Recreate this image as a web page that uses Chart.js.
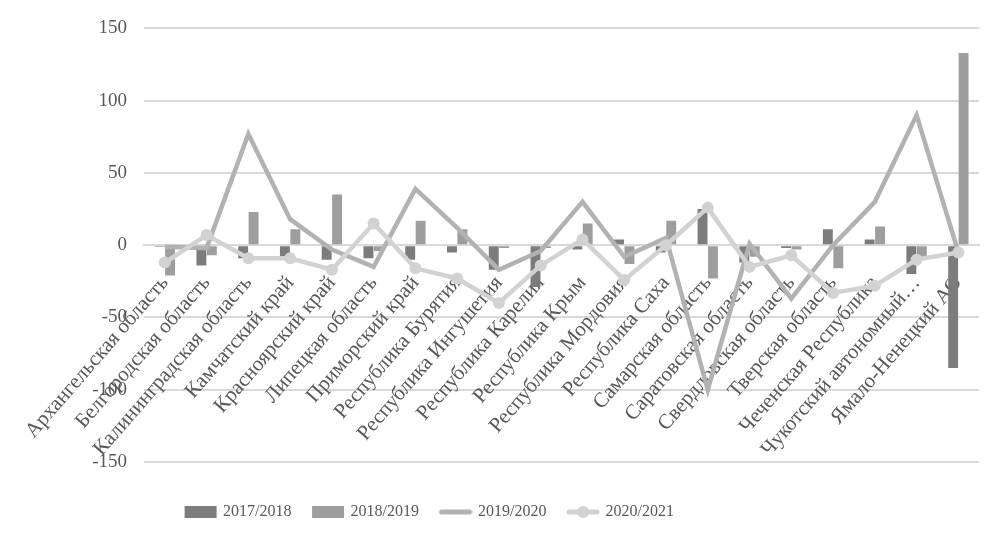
<!DOCTYPE html>
<html lang="ru">
<head>
<meta charset="UTF-8">
<title>Chart</title>
<script src="https://cdn.jsdelivr.net/npm/chart.js"></script>
<style>
  *{margin:0;padding:0;box-sizing:border-box;}
  body{background:#fff;}
  #wrap{width:1004px;height:544px;position:relative;}
</style>
</head>
<body>
<div id="wrap"><canvas id="mycanvas"></canvas></div>
<script>
// регионы
var regions = ["Архангельская область","Белгородская область","Калининградская область","Камчатский край",
  "Красноярский край","Липецкая область","Приморский край","Республика Бурятия","Республика Ингушетия",
  "Республика Карелия","Республика Крым","Республика Мордовия","Республика Саха","Самарская область",
  "Саратовская область","Свердловская область","Тверская область","Чеченская Республика",
  "Чукотский автономный…","Ямало-Ненецкий АО"];
var seriesNames = ["2017/2018","2018/2019","2019/2020","2020/2021"];
var v1718 = [-1,-14,-9,-10,-10,-9,-10,-5,-17,-29,-3,4,-5,25,-12,-2,11,4,-20,-85];
var v1819 = [-21,-7,23,11,35,-4,17,11,-2,-2,15,-13,17,-23,-8,-3,-16,13,-10,133];
var v1920 = [-1,-2,77,18,-3,-15,39,12,-17,-4,30,-8,5,-100,1,-37,0,30,90,-5];
var v2021 = [-12,7,-9,-9,-17,15,-16,-23,-40,-14,4,-24,0,26,-15,-7,-33,-28,-10,-5];
var yTicks = [-150,-100,-50,0,50,100,150];

var colors = ["#7c7c7c","#9e9e9e","#b2b2b2","#d2d2d2"];
var fontName = "'Liberation Serif','Times New Roman',serif";

// значки для легенды
function legendIcon(type, color){
  var c = document.createElement("canvas");
  c.width = 34; c.height = 14;
  var g = c.getContext("2d");
  if(type=="bar"){
    g.fillStyle = color;
    g.fillRect(1,1,32,12);
  }else{
    g.strokeStyle = color;
    g.lineWidth = 5;
    g.lineCap = "round";
    g.beginPath(); g.moveTo(3,7); g.lineTo(31,7); g.stroke();
    if(type=="marker"){
      g.fillStyle = color;
      g.beginPath(); g.arc(17,7,6,0,Math.PI*2); g.fill();
    }
  }
  return c;
}
var icons = [legendIcon("bar",colors[0]),legendIcon("bar",colors[1]),legendIcon("line",colors[2]),legendIcon("marker",colors[3])];

// легенда в оригинале сдвинута влево
var legendShift = {
  id:"legendShift",
  afterLayout:function(chart){
    chart.legend.left -= 62;
    chart.legend.right -= 62;
  }
};

var ctx = document.getElementById("mycanvas");
new Chart(ctx,{
  data:{
    labels:regions,
    datasets:[
      {type:"bar",label:seriesNames[0],data:v1718,backgroundColor:colors[0],order:2,
        categoryPercentage:0.5,barPercentage:0.95},
      {type:"bar",label:seriesNames[1],data:v1819,backgroundColor:colors[1],order:3,
        categoryPercentage:0.5,barPercentage:0.95},
      {type:"line",label:seriesNames[2],data:v1920,borderColor:colors[2],borderWidth:4.5,
        pointRadius:0,tension:0,order:1},
      {type:"line",label:seriesNames[3],data:v2021,borderColor:colors[3],borderWidth:4.5,
        pointRadius:6,pointBackgroundColor:colors[3],pointBorderWidth:0,tension:0,order:0}
    ]
  },
  plugins:[legendShift],
  options:{
    responsive:true,
    maintainAspectRatio:false,
    animation:false,
    layout:{padding:{top:24,right:20,bottom:14,left:0}},
    scales:{
      x:{
        position:{y:0},
        offset:true,
        grid:{display:false,drawTicks:false},
        border:{display:true,color:"#d9d9d9",width:2},
        ticks:{
          autoSkip:false,minRotation:49,maxRotation:49,padding:26,
          color:"#595959",font:{family:fontName,size:21}
        }
      },
      // пустая ось снизу - только отступ между графиком и легендой
      gap:{
        type:"category",
        position:"bottom",
        grid:{display:false,drawTicks:false},
        border:{display:false},
        ticks:{display:false},
        afterFit:function(scale){ scale.height = 20; }
      },
      y:{
        min:-150,max:150,
        afterBuildTicks:function(scale){ scale.ticks = yTicks.map(function(v){return {value:v};}); },
        afterFit:function(scale){ scale.width = 143; },
        grid:{color:"#d9d9d9",lineWidth:2,drawTicks:false},
        border:{display:false},
        ticks:{padding:17,color:"#595959",font:{family:fontName,size:19}}
      }
    },
    plugins:{
      tooltip:{enabled:false},
      legend:{
        position:"bottom",
        labels:{
          usePointStyle:true,pointStyleWidth:29,boxHeight:14,padding:22,
          color:"#595959",font:{family:fontName,size:16},
          generateLabels:function(chart){
            return chart.data.datasets.map(function(d,i){
              return {text:d.label,pointStyle:icons[i],fillStyle:colors[i],strokeStyle:colors[i],
                lineWidth:0,datasetIndex:i,hidden:false,fontColor:"#595959"};
            });
          }
        }
      }
    }
  }
});
</script>
</body>
</html>
